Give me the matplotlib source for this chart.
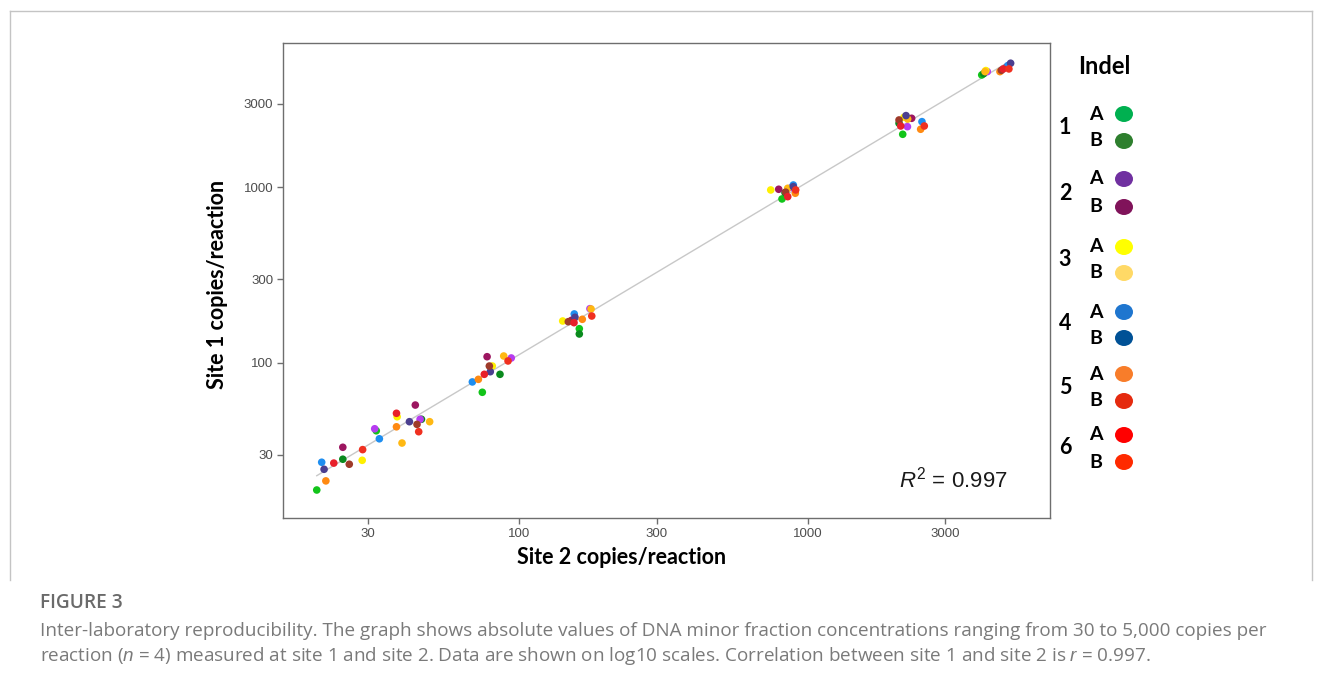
import numpy as np
import matplotlib
matplotlib.use("Agg")
import matplotlib.pyplot as plt
from matplotlib.patches import Ellipse

# ---------------- data (site 2 = x, site 1 = y) ----------------
series = ["1A", "1B", "2A", "2B", "3A", "3B", "4A", "4B", "5A", "5B", "6A", "6B"]

site2_1A = [19.9, 32.0, 74.6, 161.8, 815.7, 2138, 4017]
site1_1A = [18.9, 41.1, 68.1, 156.8, 860.1, 2009, 4375]
site2_1B = [24.5, 45.9, 85.9, 161.8, 835.6, 2076, 4080]
site1_1B = [28.3, 47.8, 86.2, 146.3, 934.2, 2322, 4450]
site2_2A = [31.6, 45.4, 94.0, 176.1, 880, 2220, 4200]
site1_2A = [42.2, 47.8, 106.8, 203.9, 1000, 2220, 4571]
site2_2B = [24.5, 43.7, 77.5, 152, 794.6, 2296, 4900]
site1_2B = [33.1, 57.6, 108.6, 175, 976.6, 2478, 4850]
site2_3A = [28.6, 37.8, 80.8, 141.7, 745.6, 2160, 4150]
site1_3A = [27.9, 49.4, 96.1, 173.5, 967.8, 2513, 4635]
site2_3B = [39.3, 49.0, 88.5, 177.7, 853.8, 2224, 4124]
site1_3B = [35.0, 46.3, 109.6, 203.1, 989.4, 2455, 4571]
site2_4A = [20.7, 32.8, 68.9, 155.4, 892.9, 2493, 4950]
site1_4A = [27.2, 37.0, 78.0, 190.3, 1032.8, 2371, 4950]
site2_4B = [21.1, 41.7, 79.5, 156.3, 892.9, 2195, 5059]
site1_4B = [24.8, 46.3, 89.2, 182.1, 1010.6, 2567, 5103]
site2_5A = [21.4, 37.6, 72.3, 165.7, 907.2, 2467, 4646]
site1_5A = [21.3, 43.3, 80.7, 177.4, 926.9, 2146, 4571]
site2_5B = [25.8, 44.3, 78.9, 148.2, 840, 2076, 4700]
site1_5B = [26.5, 44.7, 96.1, 171.9, 940, 2424, 4650]
site2_6A = [22.8, 37.6, 75.8, 155.1, 853.8, 2104, 4771]
site1_6A = [26.9, 51.7, 86.2, 169.7, 886.4, 2240, 4735]
site2_6B = [28.7, 44.9, 91.6, 178.7, 910, 2540, 4990]
site1_6B = [32.1, 40.6, 102.7, 185.2, 967.8, 2240, 4735]

x_ticks = [30, 100, 300, 1000, 3000]
y_ticks = [30, 100, 300, 1000, 3000]
r2_label = "0.997"

legend_indels = ["1", "2", "3", "4", "5", "6"]
legend_sub = ["A", "B"]

# ---------------- styles ----------------
point_colors = {
    "1A": "#12c41a", "1B": "#0a8a1e", "2A": "#b63cf0", "2B": "#9c1660",
    "3A": "#fff000", "3B": "#ffb812", "4A": "#1e8ef0", "4B": "#4b3f90",
    "5A": "#ff8a12", "5B": "#9e3a2a", "6A": "#e8202a", "6B": "#f03020",
}
legend_colors = {
    "1A": "#00b050", "1B": "#2e7f2e", "2A": "#7030a0", "2B": "#80135a",
    "3A": "#ffff00", "3B": "#ffd966", "4A": "#1f76cf", "4B": "#005196",
    "5A": "#f87d2a", "5B": "#e52a0f", "6A": "#ff0000", "6B": "#ff2a00",
}

data = {
    "1A": (site2_1A, site1_1A), "1B": (site2_1B, site1_1B),
    "2A": (site2_2A, site1_2A), "2B": (site2_2B, site1_2B),
    "3A": (site2_3A, site1_3A), "3B": (site2_3B, site1_3B),
    "4A": (site2_4A, site1_4A), "4B": (site2_4B, site1_4B),
    "5A": (site2_5A, site1_5A), "5B": (site2_5B, site1_5B),
    "6A": (site2_6A, site1_6A), "6B": (site2_6B, site1_6B),
}

plt.rcParams["mathtext.fontset"] = "custom"
plt.rcParams["mathtext.rm"] = "Liberation Sans"
plt.rcParams["mathtext.it"] = "Liberation Sans:italic"

W, H = 1322, 686
fig = plt.figure(figsize=(W / 100, H / 100), dpi=100)

# overlay in pixel coordinates for frame, legend, caption
ov = fig.add_axes([0, 0, 1, 1])
ov.set_xlim(0, W)
ov.set_ylim(H, 0)
ov.axis("off")
ov.set_zorder(0)

frame_c = "#c4c4c4"
ov.plot([10, 1312], [11, 11], color=frame_c, lw=1.0)
ov.plot([10, 10], [11, 580], color=frame_c, lw=1.0)
ov.plot([1312, 1312], [11, 580], color=frame_c, lw=1.0)

# main axes
ax = fig.add_axes([283 / W, 1 - 518 / H, (1050 - 283) / W, (518 - 43) / H])
ax.set_zorder(2)
ax.set_xscale("log")
ax.set_yscale("log")
ax.set_xlim(15.2, 6927)
ax.set_ylim(13.09, 6653)

allx = np.concatenate([np.asarray(data[s][0], float) for s in series])
ally = np.concatenate([np.asarray(data[s][1], float) for s in series])
b, a = np.polyfit(np.log10(allx), np.log10(ally), 1)
xl = np.array([allx.min(), allx.max()])
ax.plot(xl, 10 ** (a + b * np.log10(xl)), color="#c8c8c8", lw=1.0, zorder=1)

for s in series:
    xs, ys = data[s]
    ax.scatter(xs, ys, s=30, color=point_colors[s], edgecolors="none", zorder=3)

ax.set_xticks(x_ticks)
ax.set_xticklabels([str(t) for t in x_ticks])
ax.set_yticks(y_ticks)
ax.set_yticklabels([str(t) for t in y_ticks])
ax.xaxis.set_minor_locator(matplotlib.ticker.NullLocator())
ax.yaxis.set_minor_locator(matplotlib.ticker.NullLocator())
for sp in ax.spines.values():
    sp.set_color("#6e6e6e")
    sp.set_linewidth(1.0)
ax.tick_params(axis="both", which="major", length=4, width=1.0, color="#6e6e6e",
               labelcolor="#4d4d4d", labelsize=9.5, pad=3)
for lab in ax.get_xticklabels() + ax.get_yticklabels():
    lab.set_fontfamily("Liberation Sans")

ax.text(0.874, 0.08, r"$R^2$ = " + r2_label, transform=ax.transAxes,
        fontsize=16, fontfamily="Liberation Sans", color="#1a1a1a",
        ha="center", va="center")

# axis titles
ov.text(622, 558, "Site 2 copies/reaction", fontsize=15.5, fontweight="bold",
        fontfamily="Lato", ha="center", va="center", color="#000000")
ov.text(218, 284, "Site 1 copies/reaction", fontsize=15.5, fontweight="bold",
        fontfamily="Lato", ha="center", va="center", rotation=90, color="#000000")

# legend
ov.text(1104, 67, "Indel", fontsize=17, fontweight="bold", fontfamily="Lato",
        ha="center", va="center")
num_y = [127, 193, 259, 324, 387, 448]
a_y = [114, 179, 247, 312, 374, 435]
b_y = [141, 207, 273, 338, 401, 462]
for i, ind in enumerate(legend_indels):
    ov.text(1065, num_y[i], ind, fontsize=15.5, fontweight="bold", fontfamily="Lato",
            ha="center", va="center")
    for sub, yy in zip(legend_sub, (a_y[i], b_y[i])):
        ov.text(1096, yy, sub, fontsize=14, fontweight="bold", fontfamily="Lato",
                ha="center", va="center")
        ov.add_patch(Ellipse((1124, yy), 18, 16, facecolor=legend_colors[ind + sub],
                             edgecolor="none"))

# caption
ov.text(40, 603, "FIGURE 3", fontsize=13.8, fontweight="semibold",
        fontfamily="Open Sans", color="#6a6a6a", ha="left", va="center")
ov.text(40, 631, "Inter-laboratory reproducibility. The graph shows absolute values of DNA minor "
        "fraction concentrations ranging from 30 to 5,000 copies per",
        fontsize=13.6, fontfamily="Open Sans", color="#7a7a7a", ha="left", va="center")
ov.text(40, 656, r"reaction ($\it{n}$ = 4) measured at site 1 and site 2. Data are shown on "
        r"log10 scales. Correlation between site 1 and site 2 is $\it{r}$ = 0.997.",
        fontsize=13.6, fontfamily="Open Sans", color="#7a7a7a", ha="left", va="center")

fig.savefig("out.png", dpi=100, facecolor="white")
